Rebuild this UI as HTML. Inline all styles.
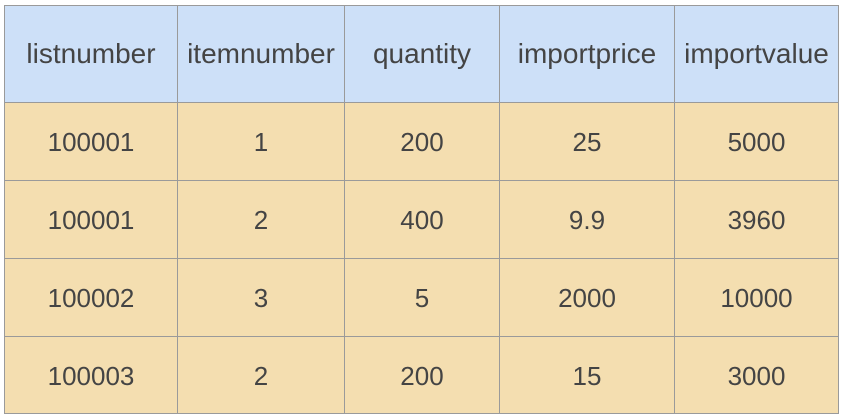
<!DOCTYPE html>
<html><head><meta charset="utf-8"><style>
html,body{margin:0;padding:0;width:843px;height:418px;background:#fff;overflow:hidden}
.c{position:absolute;display:flex;align-items:center;justify-content:center;box-sizing:border-box;font-family:"Liberation Sans","DejaVu Sans",sans-serif;font-size:26px;color:#444;border-right:1.5px solid #9a9a9a;border-bottom:1.5px solid #9a9a9a;padding-top:2px}
.h{background:#cde0f8;font-size:28px;padding-top:0}
.b{background:#f4deb0}
#t{position:absolute;left:4px;top:5px;width:835px;height:409px;border-left:1.5px solid #9a9a9a;border-top:1.5px solid #9a9a9a;box-sizing:border-box}
</style></head><body>
<div id="t"></div>
<script>
const headers=["listnumber","itemnumber","quantity","importprice","importvalue"];
const rows=[["100001","1","200","25","5000"],["100001","2","400","9.9","3960"],["100002","3","5","2000","10000"],["100003","2","200","15","3000"]];
const xs=[4,178,345,500,675,839];
const ys=[5,103,181,259,337,414];
function cell(txt,ci,ri,cls){
  const d=document.createElement('div');
  d.className='c '+cls;
  d.style.left=xs[ci]+'px';d.style.top=ys[ri]+'px';
  d.style.width=(xs[ci+1]-xs[ci])+'px';d.style.height=(ys[ri+1]-ys[ri])+'px';
  if(ci===0)d.style.borderLeft='1.5px solid #9a9a9a';
  if(ri===0)d.style.borderTop='1.5px solid #9a9a9a';
  d.textContent=txt;
  
  
  document.body.appendChild(d);
}
headers.forEach((h,i)=>cell(h,i,0,'h'));
rows.forEach((r,ri)=>r.forEach((v,ci)=>cell(v,ci,ri+1,'b')));
</script>
</body></html>
